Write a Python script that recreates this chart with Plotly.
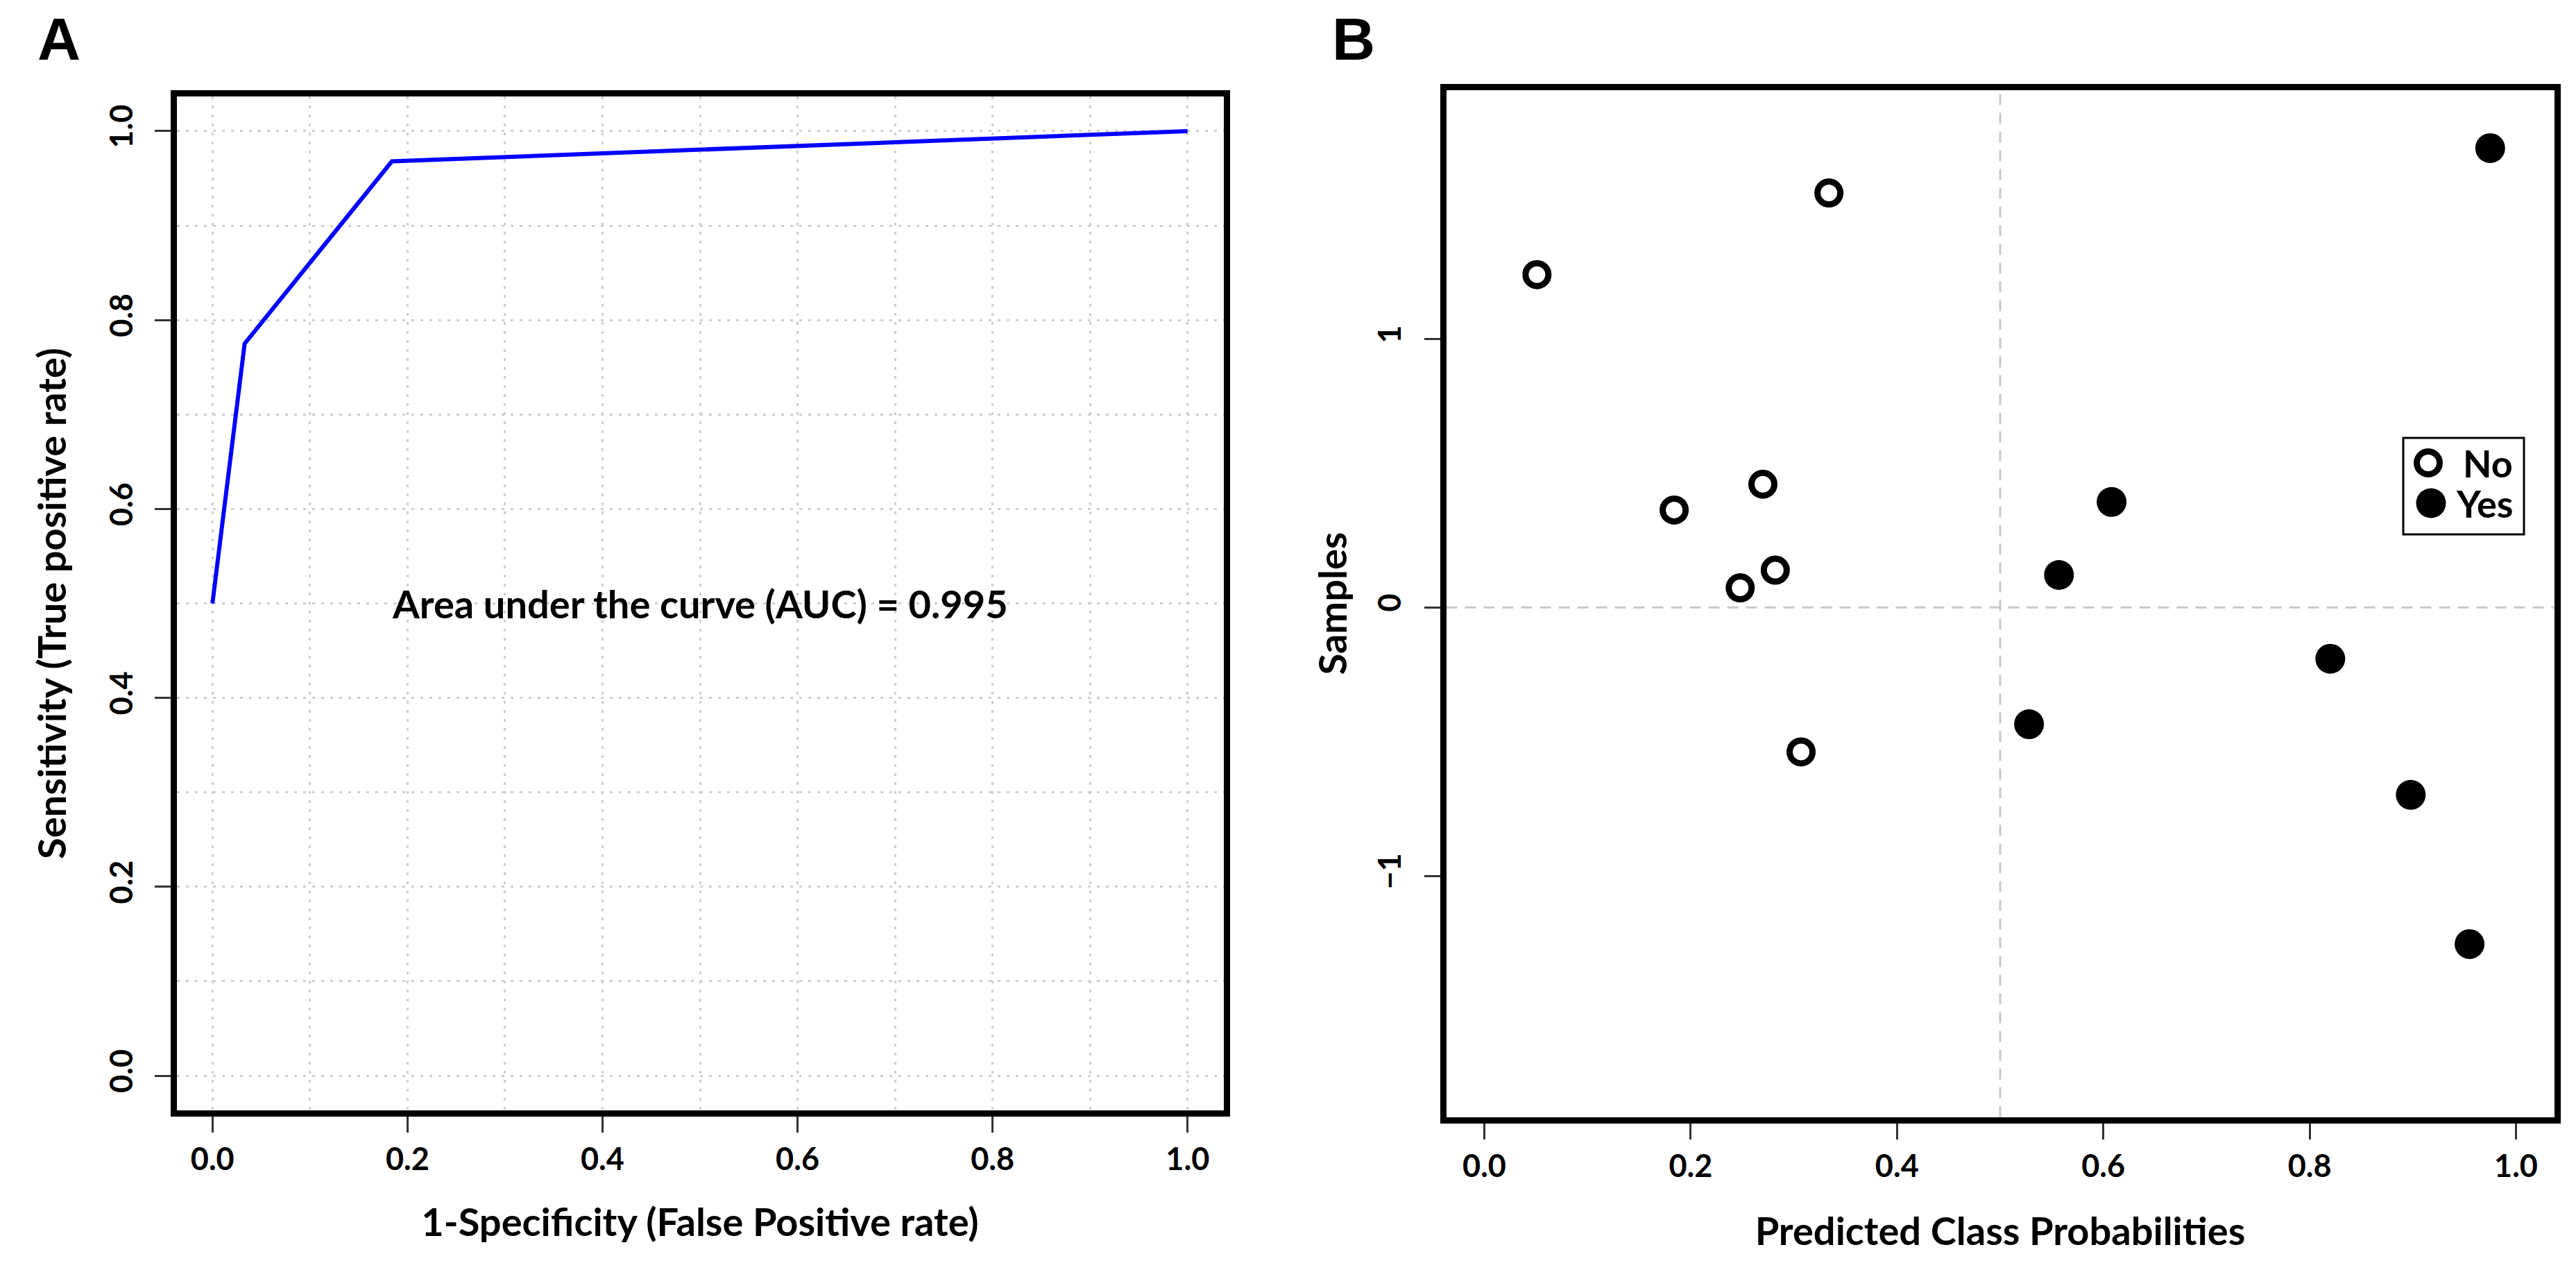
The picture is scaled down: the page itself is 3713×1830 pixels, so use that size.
import plotly.graph_objects as go

# ---------------- data ----------------
# Panel A: ROC curve
roc_fpr = [0.0, 0.033, 0.184, 1.0]
roc_tpr = [0.5, 0.775, 0.968, 1.0]
auc_value = 0.995
auc_pos = (0.5, 0.5)

# Panel B: predicted class probabilities
no_prob = [0.051, 0.334, 0.184, 0.270, 0.248, 0.282, 0.307]
no_sample = [1.240, 1.544, 0.363, 0.459, 0.073, 0.139, -0.538]
yes_prob = [0.975, 0.608, 0.557, 0.528, 0.820, 0.898, 0.955]
yes_sample = [1.711, 0.393, 0.121, -0.435, -0.191, -0.698, -1.254]
prob_threshold = 0.5
sample_ref = 0.0

a_ticks = [0.0, 0.2, 0.4, 0.6, 0.8, 1.0]
b_xticks = [0.0, 0.2, 0.4, 0.6, 0.8, 1.0]
b_yticks = [-1, 0, 1]
legend_labels = ["No", "Yes"]

# ---------------- figure ----------------
W, H = 3713, 1830
FONT = "Lato"
BLACK = "#000000"
GRID = "#cfcfcf"

fig = go.Figure()

fig.add_trace(go.Scatter(
    x=roc_fpr, y=roc_tpr, mode="lines",
    line=dict(color="#0000ff", width=6),
    xaxis="x", yaxis="y", showlegend=False, hoverinfo="skip"))

fig.add_trace(go.Scatter(
    x=no_prob, y=no_sample, mode="markers", name=legend_labels[0],
    marker=dict(symbol="circle", size=33, color="white",
                line=dict(color=BLACK, width=9)),
    xaxis="x2", yaxis="y2", showlegend=False))

fig.add_trace(go.Scatter(
    x=yes_prob, y=yes_sample, mode="markers", name=legend_labels[1],
    marker=dict(symbol="circle", size=43, color=BLACK,
                line=dict(color=BLACK, width=0)),
    xaxis="x2", yaxis="y2", showlegend=False))

tickfont = dict(family=FONT, size=45, color=BLACK, weight="bold")
titlefont = dict(family=FONT, size=56, color=BLACK, weight="bold")

common = dict(
    showline=True, linecolor=BLACK, linewidth=9, mirror=True,
    ticks="outside", ticklen=23, tickwidth=3, tickcolor="#333333",
    tickfont=tickfont, zeroline=False, fixedrange=True,
)

grid_style = dict(showgrid=True, gridcolor=GRID, gridwidth=3, griddash="4px,9px")

fig.update_layout(
    width=W, height=H,
    margin=dict(l=0, r=0, t=0, b=0),
    paper_bgcolor="white", plot_bgcolor="white",
    font=dict(family=FONT, color=BLACK),
    showlegend=False,
    xaxis=dict(
        domain=[246.5 / W, 1755.5 / W], anchor="y",
        range=[-0.0368, 1.0368], tickvals=a_ticks, tickformat=".1f",
        title=dict(text="1-Specificity (False Positive rate)", font=titlefont, standoff=50),
        minor=dict(dtick=0.1, tick0=0, ticks="", **grid_style),
        **grid_style, **common),
    yaxis=dict(
        domain=[1 - 1592 / H, 1 - 131 / H], anchor="x",
        range=[-0.0367, 1.0367], tickvals=a_ticks, tickformat=".1f", tickangle=-90,
        ticklabelstandoff=14,
        title=dict(text="Sensitivity (True positive rate)", font=titlefont, standoff=36),
        minor=dict(dtick=0.1, tick0=0, ticks="", **grid_style),
        **grid_style, **common),
    xaxis2=dict(
        domain=[2076.5 / W, 3673.5 / W], anchor="y2",
        range=[-0.037, 1.037], tickvals=b_xticks, tickformat=".1f",
        title=dict(text="Predicted Class Probabilities", font=titlefont, standoff=54),
        showgrid=False, **common),
    yaxis2=dict(
        domain=[1 - 1601.5 / H, 1 - 121.5 / H], anchor="x2",
        range=[-1.898, 1.928], tickvals=b_yticks, tickangle=-90,
        ticklabelstandoff=16,
        title=dict(text="Samples", font=titlefont, standoff=18),
        showgrid=False, **common),
)

# dashed reference lines in panel B
dash_line = dict(color="#c8c8c8", width=3, dash="16px,11px")
fig.add_shape(type="line", xref="x2", yref="y2 domain",
              x0=prob_threshold, x1=prob_threshold, y0=0, y1=1,
              line=dash_line, layer="below")
fig.add_shape(type="line", xref="x2 domain", yref="y2",
              x0=0, x1=1, y0=sample_ref, y1=sample_ref,
              line=dash_line, layer="below")

# AUC text
fig.add_annotation(
    x=auc_pos[0], y=auc_pos[1], xref="x", yref="y",
    text=f"Area under the curve (AUC) = {auc_value}",
    showarrow=False, xanchor="center", yanchor="middle",
    font=dict(family=FONT, size=56, color=BLACK, weight="bold"))

# legend box for panel B (R-style legend with large symbols)
lg_left, lg_right, lg_top, lg_bottom = 3456, 3630, 623, 762
fig.add_shape(type="rect", xref="paper", yref="paper",
              x0=lg_left / W, x1=lg_right / W, y0=1 - lg_bottom / H, y1=1 - lg_top / H,
              line=dict(color=BLACK, width=3), fillcolor="white", layer="above")
legend_rows = [
    # (symbol centre x, row centre y, text left x, ring?)
    (3492, 659, 3540, True),
    (3496, 717, 3530, False),
]
for label, (cx, cy, tx, ring) in zip(legend_labels, legend_rows):
    r = 16.5 if ring else 21.5
    fig.add_shape(type="circle", xref="paper", yref="paper",
                  xsizemode="pixel", ysizemode="pixel",
                  xanchor=cx / W, yanchor=1 - cy / H,
                  x0=-r, x1=r, y0=-r, y1=r,
                  line=dict(color=BLACK, width=9 if ring else 0),
                  fillcolor="white" if ring else BLACK, layer="above")
    fig.add_annotation(x=tx / W, y=1 - cy / H, xref="paper", yref="paper",
                       text=label, showarrow=False, xanchor="left", yanchor="middle",
                       font=dict(family=FONT, size=54, color=BLACK, weight="bold"))

# panel letters
for letter, px in (("A", 44), ("B", 1910)):
    fig.add_annotation(
        x=px / W, y=1, xref="paper", yref="paper", yshift=2,
        text=letter, showarrow=False, xanchor="left", yanchor="top",
        font=dict(family="Liberation Sans", size=86, color=BLACK, weight="bold"))

fig.write_html("out.html")
